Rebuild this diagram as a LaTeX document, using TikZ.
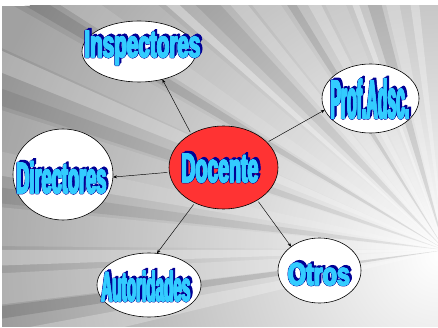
\documentclass[tikz,border=0pt]{standalone}
\usepackage{fontspec}
\setmainfont{Liberation Sans}
\newfontfamily\wafont[UprightFont={* Bold},UprightFeatures={FakeBold=3}]{Liberation Sans}
\usepackage{graphicx}
\usetikzlibrary{shapes.geometric,arrows.meta}
\definecolor{wafill}{RGB}{51,204,255}
\definecolor{wadark}{RGB}{0,0,150}
\definecolor{docred}{RGB}{255,51,51}
\definecolor{bggray}{RGB}{148,148,148}
\newcommand{\walayer}[3]{\rlap{\kern#1pt\raisebox{#2pt}{\color{#3}\copy0}}}
\newcommand{\waface}[3]{%
  \setbox0=\hbox{\resizebox{#1pt}{#2pt}{\wafont #3}}%
  \walayer{3}{2.6}{wadark}\walayer{2.2}{1.8}{wadark}\walayer{1.6}{1}{wadark}%
  \walayer{-0.6}{0}{wadark}\walayer{1.4}{0}{wadark}\walayer{0.4}{0.9}{wadark}\walayer{0.4}{-0.7}{wadark}%
  \walayer{0}{0}{wafill}\walayer{0.8}{0}{wafill}\walayer{0.4}{0.3}{wafill}%
  {\color{wafill}\box0}}
\begin{document}
\begin{tikzpicture}[x=1pt,y=-1pt,
  bubble/.style={ellipse,draw=black,line width=0.6pt,fill=white,inner sep=0,outer sep=0},
  wa/.style={anchor=base,inner sep=0,outer sep=0},
  arr/.style={line width=0.45pt,-{Stealth[length=4pt,width=3pt]},shorten <=2pt}]
\useasboundingbox (0,0) rectangle (438,328);
\fill[white] (0,0) rectangle (438,328);
% background
\begin{scope}
\clip (2,6) rectangle (438,326);
\fill[bggray] (2,6) rectangle (438,326);
\shade[inner color=white,outer color=bggray] (440,255) circle (480);
\coordinate (V) at (445,250);
\foreach \a/\w/\o/\c in {
  168/1.5/0.25/white, 172/0.8/0.12/black, 175/2/0.2/white, 179/1/0.3/white,
  183/2.5/0.15/white, 187/1/0.08/black, 191/1.5/0.22/white, 195/2.5/0.12/white,
  199/1/0.08/black, 203/1.2/0.25/white, 207/2.5/0.12/white, 211/0.8/0.1/black,
  214/1.5/0.22/white, 218/2.5/0.12/white, 222/0.7/0.35/white, 226/1.5/0.08/black,
  230/1.2/0.22/white, 234/2.2/0.15/white, 238/0.8/0.1/black, 242/1.2/0.25/white,
  246/2/0.12/white, 250/0.7/0.35/white, 254/1.5/0.1/black, 258/1.5/0.22/white,
  263/1/0.3/white}{
  \fill[\c,opacity=\o] (V) -- ++(\a-\w:700) -- ++(\a+90:{2*700*sin(\w)}) -- cycle;
}
\end{scope}
% bubbles
\node[bubble,minimum width=114pt,minimum height=61pt] (insp) at (139,51.5) {};
\node[bubble,minimum width=97pt,minimum height=69pt] (prof) at (370.5,98.5) {};
\node[bubble,fill=docred,minimum width=109pt,minimum height=83pt] (doc) at (223.5,167.5) {};
\node[bubble,minimum width=100pt,minimum height=91pt] (dir) at (63,174.5) {};
\node[bubble,minimum width=104pt,minimum height=64pt] (aut) at (149,285) {};
\node[bubble,minimum width=83pt,minimum height=65pt] (otr) at (319.5,270.5) {};
% arrows
\draw[arr] (doc.134) -- (insp.-50);
\draw[arr] (doc.30) -- (prof.-166);
\draw[arr] (doc.185) -- (dir.-3);
\draw[arr] (doc.231) -- (aut.76);
\draw[arr] (doc.-44) -- (otr.140);
% texts
\node[wa] (tinsp) at (142,57) {\waface{116}{26}{Inspectores}};
\node[wa] (tprof) at (369.5,118) {\waface{79}{39}{Prof.Adsc.}};
\node[wa] (tdoc) at (219.5,182) {\waface{77}{28}{Docente}};
\node[wa] (tdir) at (61,193) {\waface{90}{31.5}{Directores}};
\node[wa] (taut) at (145.5,301) {\waface{89}{30}{Autoridades}};
\node[wa] (totr) at (318.5,285) {\waface{62}{22}{Otros}};
\end{tikzpicture}
\end{document}
